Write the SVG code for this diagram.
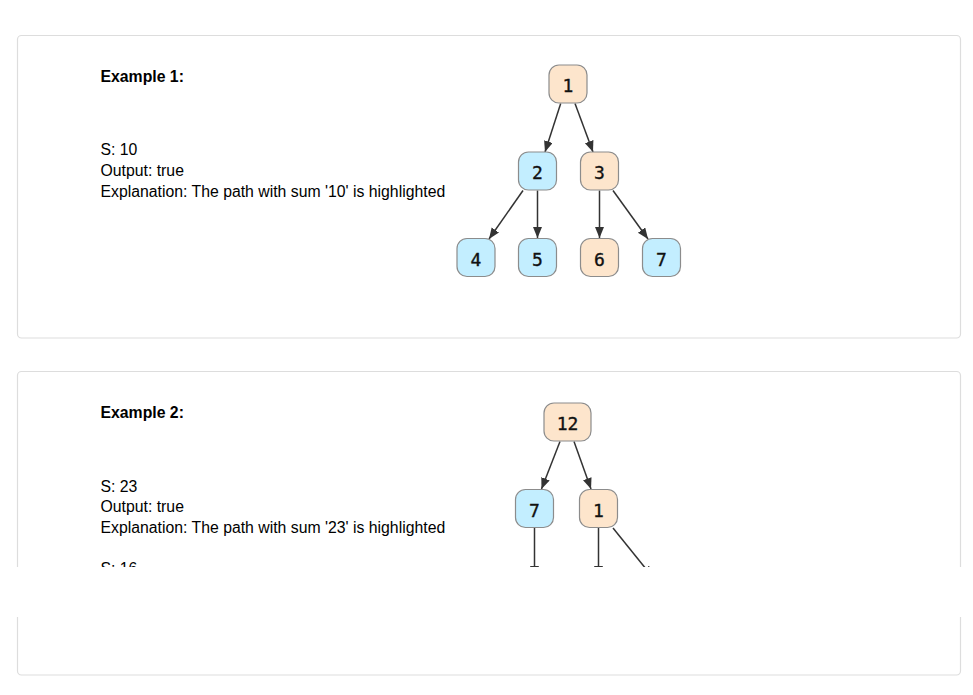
<svg xmlns="http://www.w3.org/2000/svg" width="973" height="695" viewBox="0 0 973 695">
  <style>
    .card { fill: #ffffff; stroke: #dddddd; stroke-width: 1.2; }
    .title { font-family: "Liberation Sans", Arial, Helvetica, sans-serif; font-size: 15.8px; font-weight: bold; fill: #000; }
    .txt { font-family: "Liberation Sans", Arial, Helvetica, sans-serif; font-size: 15.8px; fill: #000; }
    .peach { fill: #fde5cc; stroke: #8c8c8c; stroke-width: 1.2; }
    .blue { fill: #c3eeff; stroke: #8c8c8c; stroke-width: 1.2; }
    .lbl { font-family: "DejaVu Sans Mono", "Liberation Mono", monospace; font-size: 18px; fill: #111; stroke: #111; stroke-width: 0.35; text-anchor: middle; }
    .edge { stroke: #333333; stroke-width: 1.5; fill: none; marker-end: url(#arrow); }
  </style>
  <defs>
    <marker id="arrow" markerUnits="userSpaceOnUse" markerWidth="12" markerHeight="10" refX="11" refY="4.5" orient="auto">
      <path d="M0,0 L11,4.5 L0,9 z" fill="#333333"/>
    </marker>
  </defs>
  <rect x="0" y="0" width="973" height="695" fill="#ffffff"/>

  <g id="card1">
    <rect class="card" x="17.5" y="35.5" width="943" height="302.5" rx="4"/>
    <text class="title" x="100.5" y="82.3">Example 1:</text>
    <text class="txt" x="100.5" y="155.3">S: 10</text>
    <text class="txt" x="100.5" y="176">Output: true</text>
    <text class="txt" x="100.5" y="196.7">Explanation: The path with sum '10' is highlighted</text>
  </g>
  <g id="card2">
    <rect class="card" x="17.5" y="371.5" width="943" height="303.5" rx="4"/>
    <text class="title" x="100.5" y="418.3">Example 2:</text>
    <text class="txt" x="100.5" y="491.7">S: 23</text>
    <text class="txt" x="100.5" y="512.2">Output: true</text>
    <text class="txt" x="100.5" y="532.7">Explanation: The path with sum '23' is highlighted</text>
    <text class="txt" x="100.5" y="574">S: 16</text>
  </g>

  <g id="connectors">
    <line class="edge" x1="560.7" y1="103.5" x2="545" y2="152"/>
    <line class="edge" x1="575" y1="103.5" x2="593" y2="152"/>
    <line class="edge" x1="523" y1="190.5" x2="489" y2="239"/>
    <line class="edge" x1="537.5" y1="190.5" x2="537.5" y2="238"/>
    <line class="edge" x1="599.5" y1="190.5" x2="599.5" y2="238"/>
    <line class="edge" x1="613" y1="190.5" x2="648" y2="239"/>
    <line class="edge" x1="560" y1="441.5" x2="541.5" y2="489"/>
    <line class="edge" x1="574" y1="441.5" x2="591" y2="489"/>
    <line class="edge" x1="534.5" y1="528" x2="534.5" y2="577"/>
    <line class="edge" x1="598.5" y1="528" x2="598.5" y2="577"/>
    <line class="edge" x1="613" y1="528" x2="652.5" y2="577"/>
  </g>

  <g id="n1-1"><rect class="peach" x="549" y="65" width="38" height="38" rx="10"/><text class="lbl" x="568" y="92">1</text></g>
  <g id="n1-2"><rect class="blue" x="518.5" y="152" width="38" height="38" rx="10"/><text class="lbl" x="537.5" y="179">2</text></g>
  <g id="n1-3"><rect class="peach" x="580.5" y="152" width="38" height="38" rx="10"/><text class="lbl" x="599.5" y="179">3</text></g>
  <g id="n1-4"><rect class="blue" x="457" y="238.5" width="38" height="38" rx="10"/><text class="lbl" x="476" y="265.5">4</text></g>
  <g id="n1-5"><rect class="blue" x="518.5" y="238.5" width="38" height="38" rx="10"/><text class="lbl" x="537.5" y="265.5">5</text></g>
  <g id="n1-6"><rect class="peach" x="580.5" y="238.5" width="38" height="38" rx="10"/><text class="lbl" x="599.5" y="265.5">6</text></g>
  <g id="n1-7"><rect class="blue" x="642.5" y="238.5" width="38" height="38" rx="10"/><text class="lbl" x="661.5" y="265.5">7</text></g>

  <g id="n2-12"><rect class="peach" x="544" y="403" width="47" height="38" rx="10"/><text class="lbl" x="567.5" y="430">12</text></g>
  <g id="n2-7"><rect class="blue" x="515.5" y="489.5" width="38" height="38" rx="10"/><text class="lbl" x="534.5" y="516.5">7</text></g>
  <g id="n2-1"><rect class="peach" x="579.5" y="489.5" width="38" height="38" rx="10"/><text class="lbl" x="598.5" y="516.5">1</text></g>

  <rect id="band" x="0" y="567" width="973" height="50" fill="#ffffff"/>
</svg>
